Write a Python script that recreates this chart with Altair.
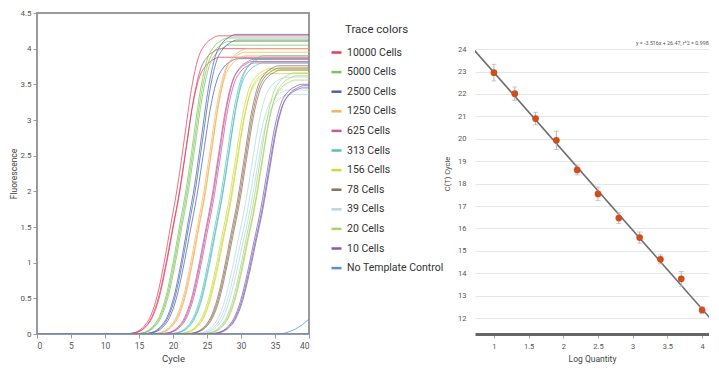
import altair as alt
import pandas as pd

FONT = "Roboto, Liberation Sans, sans-serif"

# ---------------- amplification plot data ----------------
groups = ["10000 Cells", "5000 Cells", "2500 Cells", "1250 Cells", "625 Cells",
          "313 Cells", "156 Cells", "78 Cells", "39 Cells", "20 Cells", "10 Cells",
          "No Template Control"]
colors = ["#e2405a", "#7cc45a", "#4b63ad", "#f4b25f", "#c7569c", "#55c2c0",
          "#cdda3a", "#8d6e55", "#b0d8e6", "#a9d36c", "#7d5fb2", "#5b8fd0"]

# cycle where each replicate reaches half of its plateau
mid_ct = [
    [20.7, 20.85, 21.0],
    [22.0, 22.15, 22.3],
    [23.2, 23.35, 23.5],
    [24.5, 24.65, 24.8],
    [25.7, 25.85, 26.0],
    [27.0, 27.15, 27.3],
    [28.2, 28.35, 28.5],
    [29.5, 29.65, 29.8],
    [30.6, 30.9, 31.2],
    [31.8, 31.95, 32.1],
    [32.9, 33.05, 33.2],
]
# plateau fluorescence of each replicate
plateau = [
    [4.18, 3.88, 4.0],
    [4.15, 4.1, 4.05],
    [4.2, 4.12, 3.86],
    [3.95, 3.9, 4.0],
    [3.82, 3.85, 3.8],
    [3.86, 3.8, 3.9],
    [3.72, 3.65, 3.7],
    [3.76, 3.73, 3.7],
    [3.6, 3.42, 3.36],
    [3.66, 3.56, 3.62],
    [3.5, 3.45, 3.48],
]
# shape of a trace around its half-plateau cycle
shape_offset = [-8, -7, -6, -5, -4, -3, -2, -1, 0, 1, 2, 3, 4, 5, 6]
shape_frac = [0.0, 0.002, 0.008, 0.025, 0.06, 0.13, 0.24, 0.37, 0.5,
              0.66, 0.82, 0.925, 0.97, 0.99, 1.0]
# no-template-control traces
ntc_cycles = [0, 35, 36, 37, 38, 39, 40]
ntc_fluor_a = [0, 0, 0.005, 0.03, 0.07, 0.13, 0.21]
ntc_fluor_b = [0, 0, 0, 0, 0, 0.005, 0.01]

rows = []
for gi, g in enumerate(groups[:-1]):
    for j, (c, p) in enumerate(zip(mid_ct[gi], plateau[gi])):
        sid = f"{g}-{j}"
        rows.append({"series": sid, "group": g, "cycle": 0, "fluor": 0})
        for off, fr in zip(shape_offset, shape_frac):
            cx = c + off
            if 0 < cx < 40:
                rows.append({"series": sid, "group": g, "cycle": cx, "fluor": p * fr})
        rows.append({"series": sid, "group": g, "cycle": 40, "fluor": p})
for k, fl in enumerate([ntc_fluor_a, ntc_fluor_b]):
    for cx, f in zip(ntc_cycles, fl):
        rows.append({"series": f"ntc-{k}", "group": groups[-1], "cycle": cx, "fluor": f})
amp = pd.DataFrame(rows)

lines = alt.Chart(amp).mark_line(strokeWidth=1.0, opacity=0.75, clip=True,
                                 interpolate="monotone").encode(
    x=alt.X("cycle:Q", scale=alt.Scale(domain=[0, 40], nice=False),
            axis=alt.Axis(values=list(range(0, 41, 5)), title="Cycle", domain=False,
                          grid=False, tickColor="#999", tickSize=4, labelPadding=3,
                          labelFontSize=8.5, labelColor="#555", titleFontSize=9.5,
                          titleColor="#444", titleFontWeight="normal", titlePadding=4,
                          labelFont=FONT, titleFont=FONT)),
    y=alt.Y("fluor:Q", scale=alt.Scale(domain=[0, 4.5], nice=False),
            axis=alt.Axis(values=[0, 0.5, 1, 1.5, 2, 2.5, 3, 3.5, 4, 4.5],
                          labelExpr="'' + datum.value", title="Fluorescence",
                          domain=False, grid=False, tickColor="#999", tickSize=4,
                          labelPadding=2, labelFontSize=8, labelColor="#555",
                          titleFontSize=8.5, titleColor="#444", titleFontWeight="normal",
                          titlePadding=1, labelFont=FONT, titleFont=FONT)),
    color=alt.Color("group:N", scale=alt.Scale(domain=groups, range=colors),
                    legend=alt.Legend(orient="none", legendX=293, legendY=33, title=None,
                                      symbolType="stroke", symbolStrokeWidth=2.5,
                                      symbolSize=100, symbolOpacity=1,
                                      labelFontSize=10.5, labelFont=FONT,
                                      labelColor="#333", rowPadding=7.6, labelOffset=4)),
    detail="series:N",
)

legend_title = alt.Chart(pd.DataFrame({"t": ["Trace colors"]})).mark_text(
    align="left", baseline="alphabetic", fontSize=11.5, font=FONT, color="#333"
).encode(x=alt.value(308), y=alt.value(20), text="t:N")

left = alt.layer(lines, legend_title).properties(
    width=272, height=321,
    view=alt.ViewBackground(stroke="#9a9a9a", strokeWidth=2))

# ---------------- standard curve data ----------------
log_qty = [1.0, 1.3, 1.6, 1.9, 2.2, 2.5, 2.8, 3.1, 3.4, 3.7, 4.0]
ct_mean = [22.95, 22.01, 20.90, 19.93, 18.61, 17.54, 16.46, 15.59, 14.62, 13.75, 12.36]
ct_err = [0.37, 0.3, 0.28, 0.41, 0.22, 0.3, 0.24, 0.25, 0.2, 0.33, 0.15]
slope = -3.516
intercept = 26.47
fit_x = [0.7, 4.5]
equation = "y = -3.516x + 26.47; r^2 = 0.998"

std = pd.DataFrame({"logq": log_qty, "ct": ct_mean, "err": ct_err})

xaxis_r = alt.Axis(values=[1, 1.5, 2, 2.5, 3, 3.5, 4], labelExpr="'' + datum.value",
                   title="Log Quantity", domainColor="#666", domainWidth=3,
                   tickColor="#aaa", tickSize=4, grid=False, labelFontSize=7.5,
                   labelColor="#555", labelPadding=4, titleFontSize=8.5,
                   titleColor="#444", titleFontWeight="normal", titlePadding=5,
                   labelFont=FONT, titleFont=FONT)
yaxis_r = alt.Axis(values=list(range(12, 25)), title="C(T) Cycle", domain=False,
                   ticks=False, grid=True, gridColor="#e6e6e6", labelFontSize=7.5,
                   labelColor="#555", labelPadding=9, titleFontSize=7.5,
                   titleColor="#444", titleFontWeight="normal", titlePadding=6,
                   labelFont=FONT, titleFont=FONT)
xs = alt.Scale(domain=[0.727, 4.1], nice=False, zero=False)
ys = alt.Scale(domain=[11.29, 25.61], nice=False, zero=False)

fit = alt.Chart(pd.DataFrame({"logq": fit_x})).transform_calculate(
    ct=f"{slope} * datum.logq + {intercept}"
).mark_line(color="#6e6e6e", strokeWidth=1.6, clip=True).encode(
    x=alt.X("logq:Q", scale=xs, axis=xaxis_r),
    y=alt.Y("ct:Q", scale=ys, axis=yaxis_r))

base = alt.Chart(std).transform_calculate(lo="datum.ct - datum.err",
                                          hi="datum.ct + datum.err")
err = base.mark_rule(color="#b5b5b5", strokeWidth=1).encode(
    x=alt.X("logq:Q", scale=xs, axis=xaxis_r),
    y=alt.Y("lo:Q", scale=ys, axis=yaxis_r), y2="hi:Q")
cap_lo = base.mark_tick(orient="horizontal", size=5, thickness=1, color="#b5b5b5").encode(
    x=alt.X("logq:Q", scale=xs, axis=xaxis_r),
    y=alt.Y("lo:Q", scale=ys, axis=yaxis_r))
cap_hi = base.mark_tick(orient="horizontal", size=5, thickness=1, color="#b5b5b5").encode(
    x=alt.X("logq:Q", scale=xs, axis=xaxis_r),
    y=alt.Y("hi:Q", scale=ys, axis=yaxis_r))
pts = base.mark_point(filled=True, shape="circle", size=45, color="#cf4f1c",
                      opacity=1).encode(
    x=alt.X("logq:Q", scale=xs, axis=xaxis_r),
    y=alt.Y("ct:Q", scale=ys, axis=yaxis_r))
eq = alt.Chart(pd.DataFrame({"t": [equation]})).mark_text(
    align="left", baseline="middle", fontSize=5.3, font=FONT, color="#555",
    limit=73, ellipsis=" "
).encode(x=alt.value(161), y=alt.value(30), text="t:N")

right = alt.layer(fit, err, cap_lo, cap_hi, pts, eq).properties(
    width=234, height=321, view=alt.ViewBackground(stroke=None))

chart = alt.hconcat(left, right, spacing=166, bounds="flush", padding=0).configure(
    font=FONT, padding=0).configure_view(stroke=None)

chart.save("out.html", embed_options={"renderer": "svg", "actions": False})
